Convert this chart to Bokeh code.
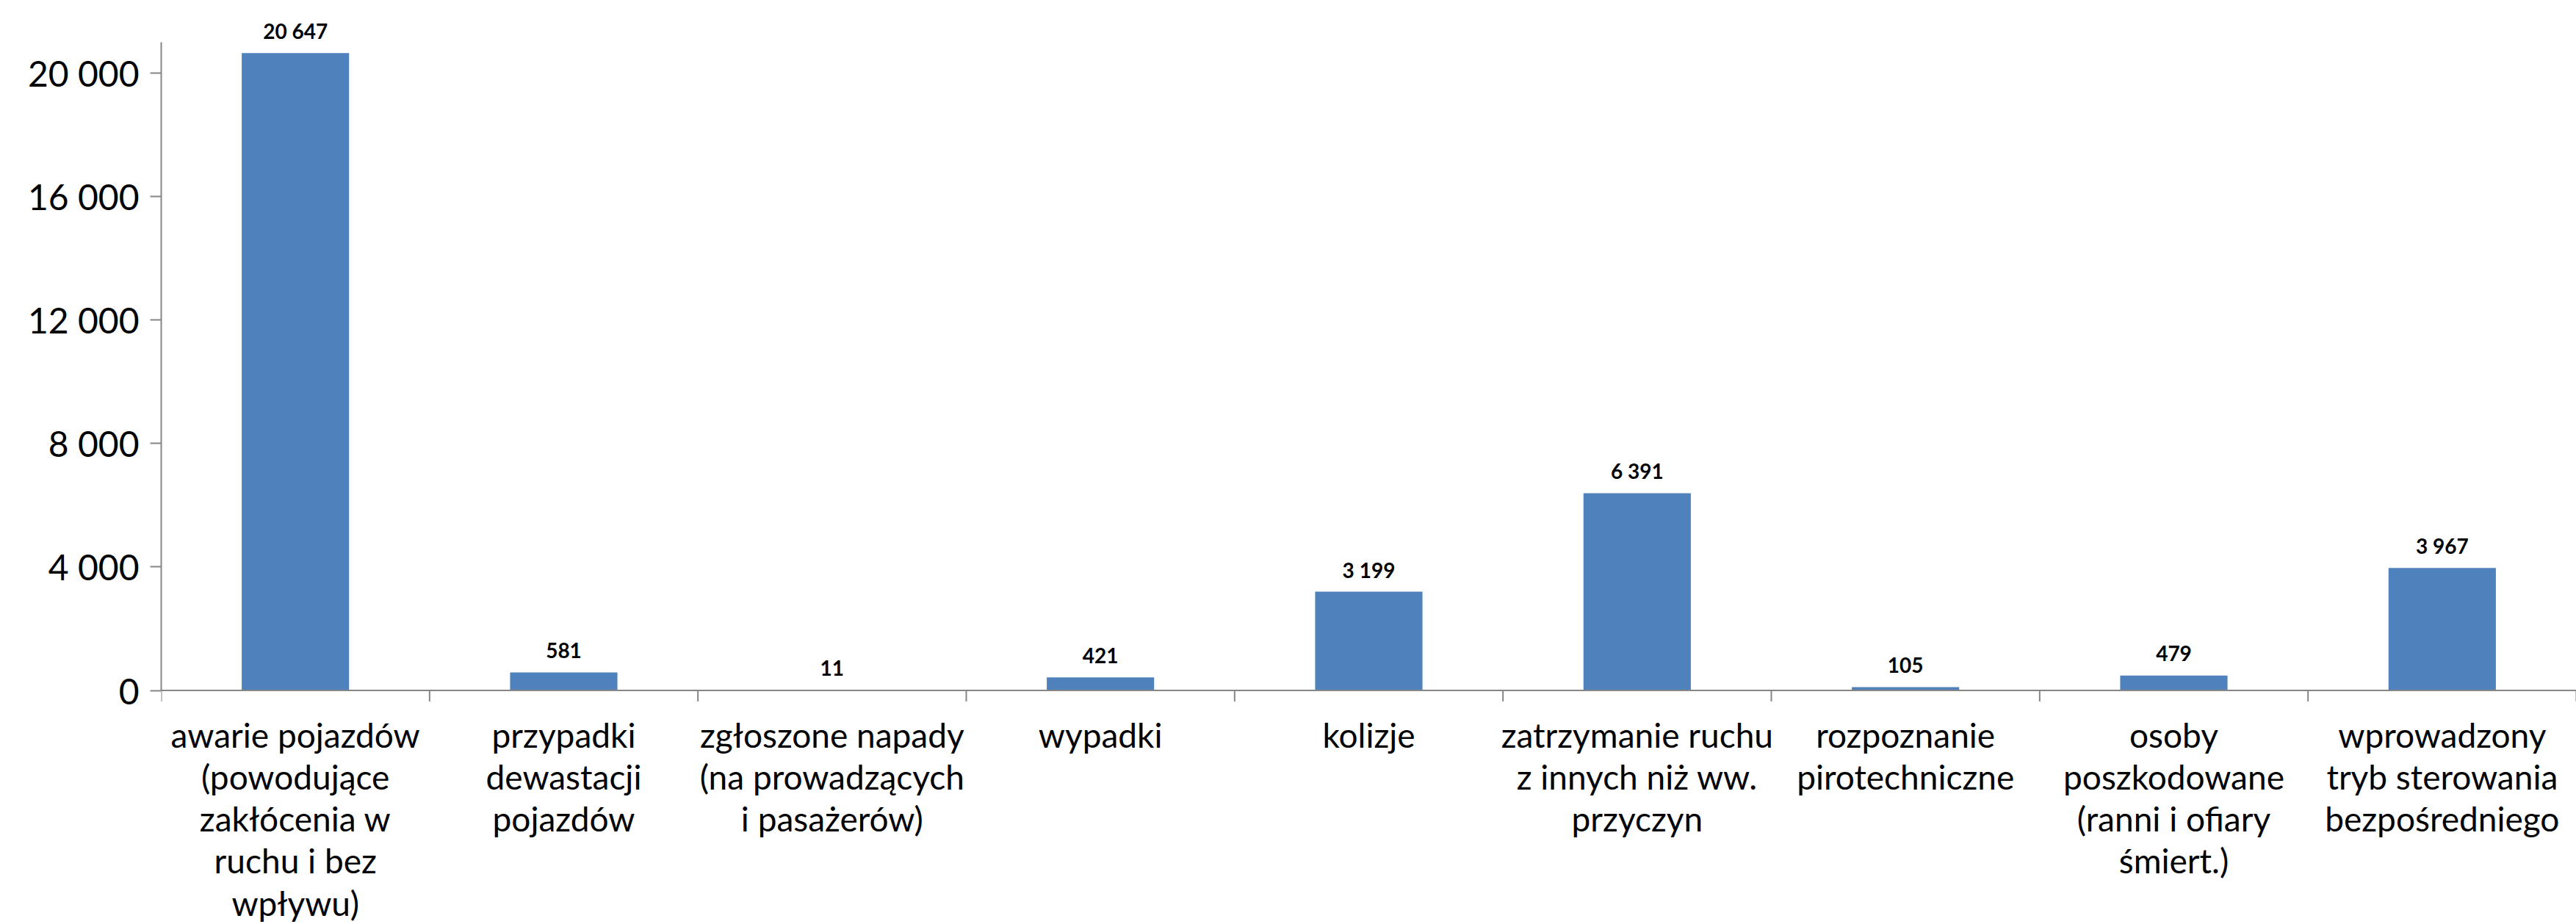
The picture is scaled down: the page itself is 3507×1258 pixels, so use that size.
import math
from bokeh.plotting import figure
from bokeh.models import FixedTicker, Range1d, ColumnDataSource, Span
from bokeh.core.properties import value
from bokeh.embed import file_html
from bokeh.resources import INLINE

categories = [
    "awarie pojazdów\n(powodujące\nzakłócenia w\nruchu i bez\nwpływu)",
    "przypadki\ndewastacji\npojazdów",
    "zgłoszone napady\n(na prowadzących\ni pasażerów)",
    "wypadki",
    "kolizje",
    "zatrzymanie ruchu\nz innych niż ww.\nprzyczyn",
    "rozpoznanie\npirotechniczne",
    "osoby\nposzkodowane\n(ranni i ofiary\nśmiert.)",
    "wprowadzony\ntryb sterowania\nbezpośredniego",
]
values = [20647, 581, 11, 421, 3199, 6391, 105, 479, 3967]
y_ticks = [0, 4000, 8000, 12000, 16000, 20000]
y_tick_labels = ["0", "4 000", "8 000", "12 000", "16 000", "20 000"]

FONT = "Lato"
AX = "#868686"
n = len(categories)
xs = [i + 0.5 for i in range(n)]
labels = [f"{v:,}".replace(",", " ") for v in values]

# layout (pixels)
FIRST_BASELINE = 60
LINE_STEP = 57.3
PX_PER_UNIT = 840.5 / 20000

src = ColumnDataSource(dict(x=xs, top=values, label=labels))

cat_x, cat_text, cat_dy = [], [], []
for x, c in zip(xs, categories):
    for k, line in enumerate(c.split("\n")):
        cat_x.append(x)
        cat_text.append(line)
        cat_dy.append(FIRST_BASELINE + k * LINE_STEP)
cat_src = ColumnDataSource(dict(x=cat_x, y=[0] * len(cat_x), text=cat_text, dy=cat_dy))

H, W = 1258, 3507
TOP, LEFT = 10, 219
zero_canvas = 939.5
y_top = (zero_canvas - TOP) / PX_PER_UNIT
y_bot = -(H - zero_canvas) / PX_PER_UNIT

p = figure(width=W, height=H, output_backend="svg", toolbar_location=None,
           x_range=Range1d(0, n), y_range=Range1d(y_bot, y_top),
           x_axis_location=None,
           min_border_left=LEFT, min_border_right=0, min_border_top=TOP, min_border_bottom=0)
p.outline_line_color = None
p.xgrid.visible = False
p.ygrid.visible = False
p.background_fill_color = "white"
p.border_fill_color = "white"

p.vbar(x="x", top="top", width=0.4, source=src, fill_color="#4F81BD", line_color=None)
p.text(x="x", y="top", text="label", source=src, text_font=value(FONT), text_font_style="bold",
       text_font_size="28px", text_align="center", text_baseline="middle", y_offset=-30,
       text_color="black")

# category axis: baseline, boundary ticks, labels
p.add_layout(Span(location=0, dimension="width", line_color=AX, line_width=2))
p.ray(x=list(range(n + 1)), y=[0] * (n + 1), length=15, length_units="screen",
      angle=-math.pi / 2, line_color=AX, line_width=2)
p.text(x="x", y="y", text="text", y_offset="dy", source=cat_src, text_font=value(FONT),
       text_font_size="46px", text_align="center", text_baseline="alphabetic",
       text_color="black")

ya = p.yaxis[0]
ya.ticker = FixedTicker(ticks=y_ticks)
ya.major_label_overrides = {t: l for t, l in zip(y_ticks, y_tick_labels)}
ya.bounds = (0, 21000)
ya.major_tick_out = 15
ya.major_tick_in = 0
ya.minor_tick_line_color = None
ya.major_tick_line_color = AX
ya.major_tick_line_width = 2
ya.axis_line_color = AX
ya.axis_line_width = 2
ya.major_label_text_font = FONT
ya.major_label_text_font_size = "48px"
ya.major_label_text_color = "black"
ya.major_label_standoff = 15

open("out.html", "w").write(file_html(p, INLINE))
